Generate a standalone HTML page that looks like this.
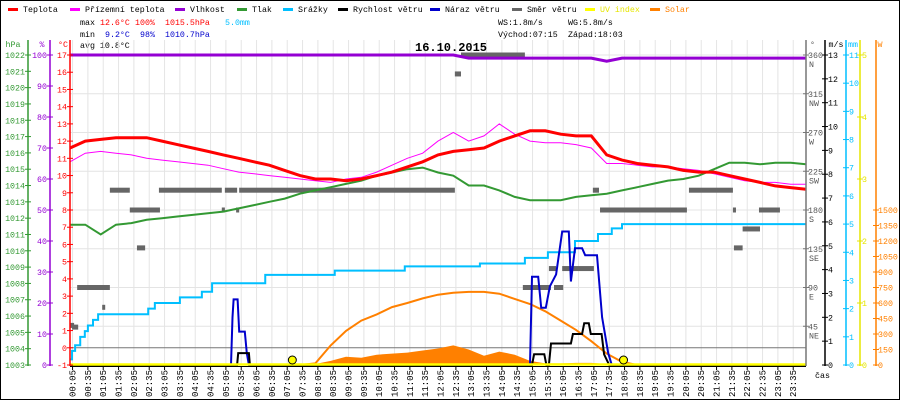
<!DOCTYPE html>
<html><head><meta charset="utf-8"><style>
html,body{margin:0;padding:0;background:#fff}
svg{display:block}
text{font-family:"Liberation Mono",monospace;font-size:8.3px}
</style></head><body>
<svg id="chart" width="900" height="400" xmlns="http://www.w3.org/2000/svg">
<rect x="0.5" y="0.5" width="899" height="399" fill="#fff" stroke="#000"/>
<g id="legend"></g>
<g>
<text x="80" y="25" fill="#000">max</text><text x="100" y="25" fill="#f00">12.6°C</text><text x="135" y="25" fill="#f00">100%</text><text x="165" y="25" fill="#f00">1015.5hPa</text><text x="225" y="25" fill="#00bfff">5.0mm</text>
<text x="80" y="37" fill="#000">min</text><text x="105" y="37" fill="#0000cc">9.2°C</text><text x="140" y="37" fill="#0000cc">98%</text><text x="165" y="37" fill="#0000cc">1010.7hPa</text>
<text x="80" y="48" fill="#000">avg 10.8°C</text>
<text x="498" y="25" fill="#000">WS:1.8m/s</text><text x="568" y="25" fill="#000">WG:5.8m/s</text>
<text x="498" y="37" fill="#000">Východ:07:15</text><text x="568" y="37" fill="#000">Západ:18:03</text>
</g>
<g id="grid"></g>
<g id="series"></g>
<g id="axes"></g>
<text x="415" y="51" style="font-size:12px;font-weight:bold" fill="#000">16.10.2015</text>
</svg>
<script>
const hours = Array.from({length:49},(_,i)=>i*30);
const temp = [11.6,12.0,12.1,12.2,12.2,12.2,12.0,11.8,11.6,11.4,11.2,11.0,10.8,10.6,10.3,10.0,9.8,9.8,9.7,9.8,10.0,10.2,10.5,10.8,11.2,11.4,11.5,11.6,12.0,12.3,12.6,12.6,12.4,12.3,12.3,11.2,10.9,10.7,10.6,10.5,10.3,10.2,10.2,10.0,9.8,9.6,9.4,9.3,9.2];
const feels = [10.8,11.3,11.4,11.3,11.2,11.0,10.9,10.8,10.7,10.6,10.4,10.2,10.1,10.0,9.9,9.8,9.7,9.6,9.8,9.9,10.2,10.6,11.0,11.3,12.0,12.5,12.0,12.3,13.0,12.4,12.0,11.9,11.9,11.8,11.6,10.7,10.7,10.6,10.5,10.5,10.4,10.3,10.1,9.9,9.7,9.6,9.6,9.5,9.5];
const humidity = [100,100,100,100,100,100,100,100,100,100,100,100,100,100,100,100,100,100,100,100,100,100,100,100,100,100,99,99,99,99,99,99,99,99,99,98,99,99,99,99,99,99,99,99,99,99,99,99,99];
const pressure = [1011.6,1011.6,1011.0,1011.6,1011.7,1011.9,1012.0,1012.1,1012.2,1012.3,1012.4,1012.6,1012.8,1013.0,1013.2,1013.5,1013.7,1013.9,1014.1,1014.3,1014.6,1014.8,1015.0,1015.1,1014.8,1014.6,1014.0,1014.0,1013.7,1013.3,1013.1,1013.1,1013.1,1013.3,1013.4,1013.5,1013.7,1013.9,1014.1,1014.3,1014.4,1014.6,1015.0,1015.4,1015.4,1015.3,1015.4,1015.4,1015.3];
const solarMax = [0,0,0,0,0,0,0,0,0,0,0,0,0,0,0,0,15,190,330,430,490,560,600,645,680,700,707,707,690,640,590,520,430,340,230,110,30,0,0,0,0,0,0,0,0,0,0,0,0];
const solar = [0,0,0,0,0,0,0,0,0,0,0,0,0,0,0,0,10,40,80,70,100,110,120,140,160,190,150,90,130,100,40,15,15,20,20,10,0,0,0,0,0,0,0,0,0,0,0,0,0];
const rainT = [0,4,10,20,29,35,45,55,153,166,215,258,278,382,518,655,802,890,935,988,1033,1060,1080,1440];
const rainV = [0.2,0.5,0.7,1.0,1.2,1.4,1.6,1.8,2.0,2.2,2.4,2.6,2.9,3.2,3.35,3.5,3.6,3.8,4.0,4.4,4.65,4.85,5.0,5.0];
const gustT = [0,315,318,320,328,331,342,346,350,900,904,916,922,931,939,951,963,976,980,988,1002,1008,1031,1041,1053,1060,1440];
const gustV = [0,0,2.0,2.75,2.75,1.4,1.4,0.5,0,0,3.7,3.7,2.4,2.4,3.3,3.8,5.6,5.6,3.5,4.9,4.9,4.6,4.6,2.0,0.5,0,0];
const speedT = [0,327,329,350,352,904,908,928,932,937,941,980,984,1002,1006,1015,1019,1040,1045,1055,1440];
const speedV = [0,0,0.5,0.5,0,0,0.45,0.45,0,0,0.9,0.9,1.3,1.3,1.75,1.75,1.3,1.3,0.45,0,0];
const dirStart = [0,4,14,63,78,117,131,174,297,303,325,331,753,765,886,937,947,963,1023,1037,1211,1297,1299,1316,1348];
const dirEnd   = [8,16,78,68,117,176,147,297,303,327,331,753,765,890,941,951,965,1025,1035,1207,1297,1303,1316,1350,1389];
const dirDeg   = [46,44,90,67,203,180,136,203,180,203,180,203,338,360,90,112,90,112,203,180,203,180,136,158,180];
const xLabels = Array.from({length:48},(_,i)=>{const m=5+i*30;return String(Math.floor(m/60)).padStart(2,'0')+':'+String(m%60).padStart(2,'0');});
const hpaTicks = Array.from({length:20},(_,i)=>1003+i);
const pctTicks = [0,10,20,30,40,50,60,70,80,90,100];
const degCTicks = Array.from({length:19},(_,i)=>-1+i);
const dirTicks = [45,90,135,180,225,270,315,360];
const dirNames = ['NE','E','SE','S','SW','W','NW','N'];
const msTicks = Array.from({length:14},(_,i)=>i);
const mmTicks = Array.from({length:12},(_,i)=>i);
const uvTicks = [0,1,2,3,4,5];
const wTicks = [0,150,300,450,600,750,900,1050,1200,1350,1500];

const NS='http://www.w3.org/2000/svg';
const X0=70,X1=806,Y0=55,Y1=365;
const xT=t=>X0+t/1440*(X1-X0);
const yC=v=>Y0+(17-v)*(Y1-Y0)/18;
const yP=v=>Y0+(1022-v)*(Y1-Y0)/19;
const yH=v=>Y0+(100-v)*(Y1-Y0)/100;
const yMs=v=>Y1-v*(Y1-Y0)/13;
const yMm=v=>Y1-v*(Y1-Y0)/11;
const yUV=v=>Y1-v*(Y1-Y0)/5;
const yW=v=>Y1-v*155/1500;
const yD=v=>Y1-v*(Y1-Y0)/360;
function mk(tag,attrs,parent){const e=document.createElementNS(NS,tag);for(const k in attrs)e.setAttribute(k,attrs[k]);parent.appendChild(e);return e;}
const grid=document.getElementById('grid'),ser=document.getElementById('series'),ax=document.getElementById('axes'),leg=document.getElementById('legend');

const legItems=[['Teplota','#f00',8],['Přízemní teplota','#f0f',70],['Vlhkost','#9400d3',175],['Tlak','#339933',237],['Srážky','#00bfff',283],['Rychlost větru','#000',338],['Náraz větru','#0000cc',430],['Směr větru','#666',512],['UV index','#ffff00',585],['Solar','#ff8000',650]];
legItems.forEach(([n,c,x])=>{
  const r=mk('rect',{x:x,y:8,width:10,height:3,fill:c},leg);
  
  
  const t=mk('text',{x:x+15,y:12,fill:(n==='UV index'?'#e6e600':(n==='Solar'?'#ff8000':'#000'))},leg);
  t.textContent=n;
  
  
});

xLabels.forEach((l,i)=>{const x=xT(5+i*30);const g=mk('line',{x1:x,x2:x,y1:40,y2:Y1,stroke:'#e4e4e4','stroke-width':1},grid);

});
dirTicks.forEach(d=>{const y=yD(d);const g=mk('line',{x1:X0,x2:X1,y1:y,y2:y,stroke:'#e4e4e4'},grid);

});
const zl=mk('line',{x1:X0,x2:X1,y1:yC(0),y2:yC(0),stroke:'#777'},grid);



function stepPath(xs,ys){let d='M'+xs[0]+','+ys[0];for(let i=1;i<xs.length;i++){d+=' H'+xs[i]+' V'+ys[i];}return d;}
function linePath(xs,ys){return xs.map((x,i)=>(i?'L':'M')+x.toFixed(1)+','+ys[i].toFixed(1)).join(' ');}
const hx=hours.map(xT);

{const xs=hx,ys=solar.map(yW);let d='M'+xs[0]+','+Y1+' '+xs.map((x,i)=>'L'+x.toFixed(1)+','+ys[i].toFixed(1)).join(' ')+' L'+xs[xs.length-1]+','+Y1+'Z';
const p=mk('path',{d:d,fill:'#ff8000'},ser);

}
{const p=mk('path',{d:linePath(hx.slice(15,38),solarMax.slice(15,38).map(yW)),fill:'none',stroke:'#ff8000','stroke-width':2},ser);

}
dirStart.forEach((s,i)=>{const r=mk('rect',{x:xT(s),y:yD(dirDeg[i])-2.5,width:Math.max(3,xT(dirEnd[i])-xT(s)),height:5,fill:'#666'},ser);

});
{const p=mk('path',{d:stepPath(rainT.map(xT),rainV.map(yMm)),fill:'none',stroke:'#00bfff','stroke-width':2},ser);

}
{const p=mk('path',{d:linePath(hx,pressure.map(yP)),fill:'none',stroke:'#339933','stroke-width':2},ser);

}
{const p=mk('path',{d:linePath(hx,feels.map(yC)),fill:'none',stroke:'#f0f','stroke-width':1},ser);

}
{const p=mk('path',{d:linePath(hx,temp.map(yC)),fill:'none',stroke:'#f00','stroke-width':3},ser);

}
{const p=mk('path',{d:linePath(hx,humidity.map(yH)),fill:'none',stroke:'#9400d3','stroke-width':3},ser);

}
{const p=mk('path',{d:linePath(gustT.map(xT),gustV.map(yMs)),fill:'none',stroke:'#0000cc','stroke-width':2},ser);

}
{const p=mk('path',{d:linePath(speedT.map(xT),speedV.map(yMs)),fill:'none',stroke:'#000','stroke-width':2},ser);

}
{const l=mk('line',{x1:X0,x2:X1,y1:Y1-0.5,y2:Y1-0.5,stroke:'#ffff00','stroke-width':2.5},ser);

}
const bl=mk('line',{x1:X0,x2:X1,y1:Y1+1.5,y2:Y1+1.5,stroke:'#000','stroke-width':1},ser);


[435,1083].forEach(t=>{const c=mk('circle',{cx:xT(t),cy:360,r:4,fill:'#ffff00',stroke:'#000','stroke-width':1},ser);

});

xLabels.forEach((l,i)=>{const x=xT(5+i*30);
const tk=mk('line',{x1:x,x2:x,y1:Y1+2,y2:Y1+5,stroke:'#000'},ax);


const t=mk('text',{x:0,y:0,transform:'translate('+(x+3)+',370) rotate(-90)','text-anchor':'end',style:'font-size:9px',fill:'#000'},ax);
t.textContent=l;

});
{const t=mk('text',{x:815,y:378,fill:'#000'},ax);t.textContent='čas';

}

function vAxis(x,color,name,ticks,yf,labelX,anchor,title,titleX,fmt){
  const l=mk('line',{x1:x,x2:x,y1:40,y2:Y1+1,stroke:color,'stroke-width':1.5},ax);
  
  
  ticks.forEach((v,i)=>{const y=yf(v);
    const tk=mk('line',{x1:x-3,x2:x+3,y1:y,y2:y,stroke:color},ax);
    
    
    const t=mk('text',{x:labelX,y:y+3,'text-anchor':anchor,fill:color},ax);
    t.textContent=fmt?fmt(v,i):v;
    
    });
  const tt=mk('text',{x:titleX,y:47,fill:color,'text-anchor':'middle'},ax);tt.textContent=title;
  
  
}
vAxis(28,'#339933','pressure',hpaTicks,yP,25,'end','hPa',13);
vAxis(50,'#9400d3','humidity',pctTicks,yH,47,'end','%',42);
vAxis(70,'#f00','temperature',degCTicks,yC,67,'end','°C',63);
vAxis(825,'#000','wind-speed',msTicks,yMs,828,'start','m/s',836);
vAxis(846,'#00bfff','rain',mmTicks,yMm,849,'start','mm',853);
vAxis(860,'#e6e600','uv',uvTicks,yUV,862,'start','',866);
vAxis(876,'#ff8000','solar',wTicks,yW,878,'start','W',880);
{const l=mk('line',{x1:X1,x2:X1,y1:40,y2:Y1+1,stroke:'#777','stroke-width':1.5},ax);


dirTicks.forEach((d,i)=>{const y=yD(d);
const tk=mk('line',{x1:X1-3,x2:X1+3,y1:y,y2:y,stroke:'#777'},ax);


const t=mk('text',{x:808,y:y+3,fill:'#555'},ax);t.textContent=d;


const n=mk('text',{x:809,y:y+12,fill:'#555'},ax);n.textContent=dirNames[i];

});
const tt=mk('text',{x:810,y:47,fill:'#555'},ax);tt.textContent='°';

}
</script>
</body></html>
